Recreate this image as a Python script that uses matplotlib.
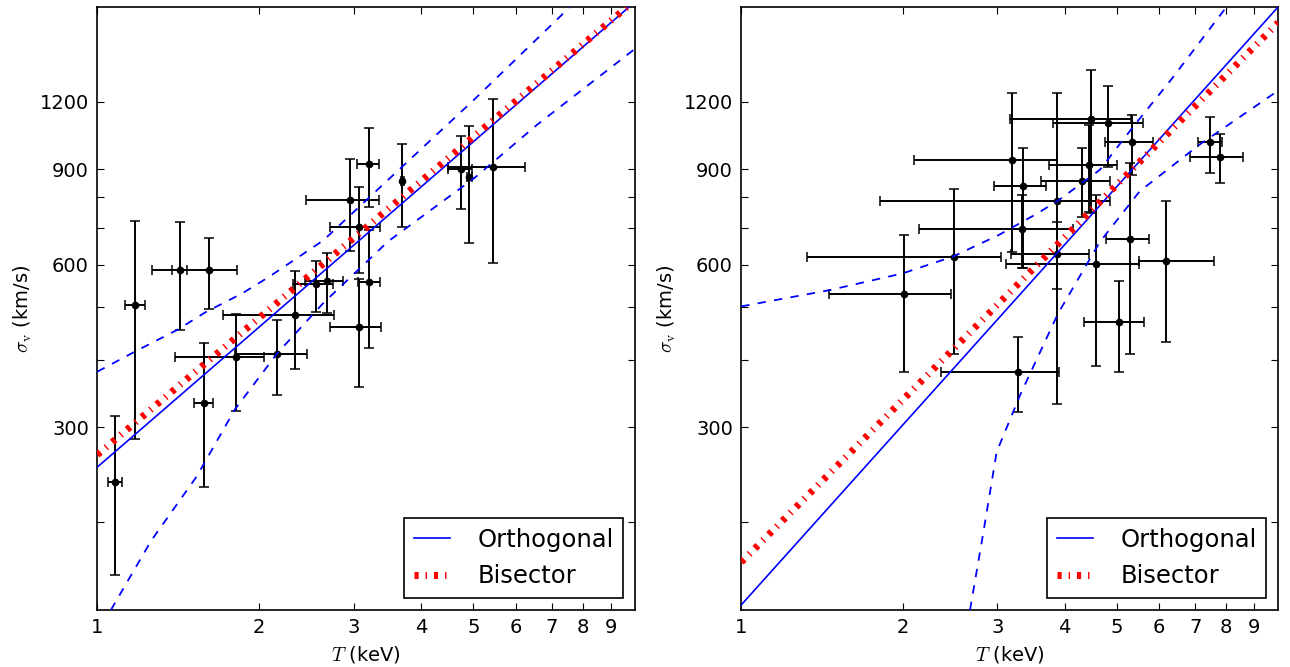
import numpy as np
import matplotlib
matplotlib.use('Agg')
import matplotlib.pyplot as plt
from matplotlib.ticker import FixedLocator, NullFormatter, NullLocator

plt.rcParams['font.family'] = ['DejaVu Sans']
plt.rcParams['mathtext.fontset'] = 'cm'
plt.rcParams['lines.scale_dashes'] = False

# ---- left panel data (T in keV, sigma in km/s, with lower/upper bounds) ----
T_left = [1.079, 1.175, 1.424, 1.612, 1.580, 1.807, 2.158, 2.332, 2.552, 2.678,
          3.068, 2.951, 3.198, 3.200, 3.068, 3.692, 4.733, 4.908, 5.430]
T_left_lo = [1.045, 1.124, 1.265, 1.377, 1.515, 1.394, 1.801, 1.714, 2.315, 2.434,
             2.710, 2.442, 3.037, 3.054, 2.710, 3.665, 4.478, 4.860, 4.490]
T_left_hi = [1.114, 1.228, 1.470, 1.820, 1.643, 2.039, 2.455, 2.754, 2.741, 2.868,
             3.357, 3.342, 3.342, 3.360, 3.370, 3.720, 4.971, 4.970, 6.240]
s_left = [237, 505, 587, 587, 332, 405, 409, 483, 552, 560,
          705, 790, 920, 558, 460, 857, 901, 873, 909]
s_left_lo = [160, 285, 454, 497, 232, 322, 344, 384, 490, 488,
             578, 637, 767, 420, 356, 705, 762, 657, 604]
s_left_hi = [314, 723, 719, 671, 430, 487, 473, 584, 610, 631,
             835, 943, 1072, 696, 564, 1004, 1038, 1084, 1214]

# ---- right panel data ----
T_right = [2.011, 2.485, 3.281, 3.190, 3.351, 3.339, 3.879, 3.879, 4.311, 4.442,
           4.475, 4.818, 5.348, 5.287, 4.571, 5.050, 6.186, 7.478, 7.776]
T_right_lo = [1.460, 1.325, 2.357, 2.095, 2.953, 2.139, 1.812, 3.185, 3.622, 3.737,
              3.162, 3.806, 4.751, 4.770, 3.118, 4.346, 5.502, 7.085, 6.837]
T_right_hi = [2.455, 3.047, 3.906, 3.879, 3.692, 4.140, 4.853, 4.441, 4.853, 5.008,
              5.326, 5.598, 5.843, 5.742, 5.502, 5.614, 7.586, 7.864, 8.590]
s_right = [530, 619, 380, 938, 839, 698, 788, 628, 858, 918,
           1117, 1099, 1010, 668, 601, 469, 610, 1010, 948]
s_right_lo = [380, 409, 320, 633, 591, 591, 540, 331, 736, 752,
              748, 909, 879, 410, 390, 380, 431, 888, 849]
s_right_hi = [680, 827, 440, 1245, 987, 808, 1245, 719, 986, 1088,
              1376, 1285, 1136, 927, 808, 560, 788, 1125, 1046]

# fit results: sigma = A * T^B
fit_left = {'Orthogonal': (253.0, 0.862), 'Bisector': (266.7, 0.842)}
fit_right = {'Orthogonal': (140.6, 1.1075), 'Bisector': (168.7, 0.999)}

# confidence bands
band_left_up_T = [1.0, 1.175, 1.413, 1.585, 1.862, 2.089, 2.630, 3.467, 5.012, 7.550]
band_left_up_s = [380, 414, 455, 489, 531, 570, 665, 860, 1211, 1797]
band_left_lo_T = [1.06, 1.26, 1.53, 1.80, 2.16, 2.63, 3.47, 5.01, 6.56, 10.0]
band_left_lo_s = [137.6, 185, 243, 323, 411, 509, 662, 866, 1088, 1507]

band_right_up_T = [1.0, 1.46, 2.0, 2.48, 3.02, 3.55, 3.89, 4.65, 5.37, 6.31, 8.0]
band_right_up_s = [502, 538, 578, 621, 681, 745, 788, 898, 1080, 1318, 1797]
band_right_lo_T = [2.667, 2.82, 2.99, 3.31, 3.89, 4.65, 5.52, 7.13, 10.0]
band_right_lo_s = [137.6, 190, 270, 345, 487, 660, 820, 1000, 1260]

xticks = [1, 2, 3, 4, 5, 6, 7, 8, 9]
yticks = [300, 600, 900, 1200]
yminor = [200, 400, 500, 700, 800]

fig = plt.figure(figsize=(12.9, 6.67), dpi=100)
ax1 = fig.add_axes([0.0754, 0.0855, 0.4171, 0.9036])
ax2 = fig.add_axes([0.5746, 0.0855, 0.4163, 0.9036])

panels = [
    (ax1, T_left, T_left_lo, T_left_hi, s_left, s_left_lo, s_left_hi, fit_left,
     band_left_up_T, band_left_up_s, band_left_lo_T, band_left_lo_s),
    (ax2, T_right, T_right_lo, T_right_hi, s_right, s_right_lo, s_right_hi, fit_right,
     band_right_up_T, band_right_up_s, band_right_lo_T, band_right_lo_s),
]

for ax, T, Tlo, Thi, s, slo, shi, fit, bu_T, bu_s, bl_T, bl_s in panels:
    T = np.array(T); s = np.array(s)
    xerr = [T - np.array(Tlo), np.array(Thi) - T]
    yerr = [s - np.array(slo), np.array(shi) - s]
    ax.errorbar(T, s, xerr=xerr, yerr=yerr, fmt='o', color='k', ms=4.5,
                elinewidth=1.4, capsize=3.5, capthick=1.1, zorder=2)

    tt = np.logspace(0, 1, 200)
    A, B = fit['Orthogonal']
    ax.plot(tt, A * tt**B, color='b', lw=1.2, label='Orthogonal', zorder=3)
    A, B = fit['Bisector']
    ax.plot(tt, A * tt**B, color='r', lw=5, dashes=(3, 5, 1, 5),
            dash_capstyle='butt', label='Bisector', zorder=4)

    ax.plot(bu_T, bu_s, color='b', lw=1.3, dashes=(6, 6), zorder=3)
    ax.plot(bl_T, bl_s, color='b', lw=1.3, dashes=(6, 6), zorder=3)

    ax.set_xscale('log')
    ax.set_yscale('log')
    ax.set_xlim(1, 10)
    ax.set_ylim(137.6, 1797)

    ax.xaxis.set_major_locator(FixedLocator(xticks))
    ax.xaxis.set_minor_locator(NullLocator())
    ax.set_xticklabels([str(v) for v in xticks])
    ax.yaxis.set_major_locator(FixedLocator(yticks))
    ax.yaxis.set_minor_locator(FixedLocator(yminor))
    ax.yaxis.set_minor_formatter(NullFormatter())
    ax.set_yticklabels([str(v) for v in yticks])

    ax.tick_params(which='both', direction='in', top=True, right=True,
                   length=5, width=0.8, labelsize=14, pad=6)
    for sp in ax.spines.values():
        sp.set_linewidth(1.2)

    ax.set_xlabel(r'$T$ (keV)', fontsize=14, labelpad=5)
    ax.set_ylabel(r'$\sigma_{\rm v}$ (km/s)', fontsize=14, labelpad=4)

    leg = ax.legend(loc='lower right', fontsize=17.5, handlelength=1.5,
                    handletextpad=1.1, borderpad=0.4, borderaxespad=0.5,
                    fancybox=False, framealpha=1, edgecolor='k')
    leg.get_frame().set_linewidth(1.2)

fig.savefig('out.png', dpi=100, facecolor='white')
